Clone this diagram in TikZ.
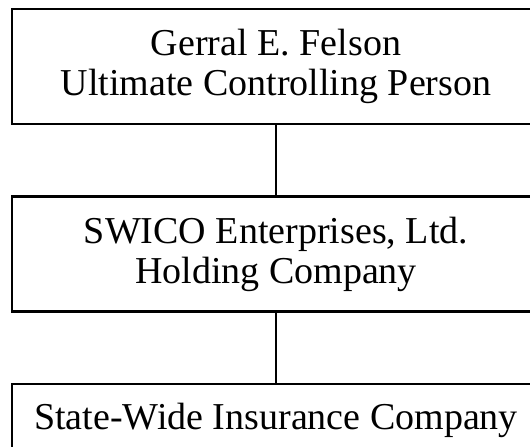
\documentclass[tikz,border=0pt]{standalone}
\usepackage{fontspec}
\setmainfont{Liberation Serif}
\usepackage{tikz}
\usetikzlibrary{shapes, arrows, positioning}

\begin{document}
\begin{tikzpicture}[
        x=1pt, y=1pt,
        node distance=70pt,
        orgbox/.style={rectangle, minimum width=528pt, minimum height=115pt, align=center, draw=black, line width=2.5pt, font=\fontsize{38}{40}\selectfont},
        link/.style={line width=2.5pt}
        ]
        \useasboundingbox (0,0) rectangle (530,447);

        \node (person) [orgbox] at (276,380.5) {Gerral E. Felson\\Ultimate Controlling Person};
        \node (holding) [orgbox, below=of person] {SWICO Enterprises, Ltd.\\Holding Company};
        \node (insurer) [orgbox, below=of holding, minimum height=72pt] {State-Wide Insurance Company};

        \draw [link] (person) -- (holding);
        \draw [link] (holding) -- (insurer);

    \end{tikzpicture}
\end{document}
